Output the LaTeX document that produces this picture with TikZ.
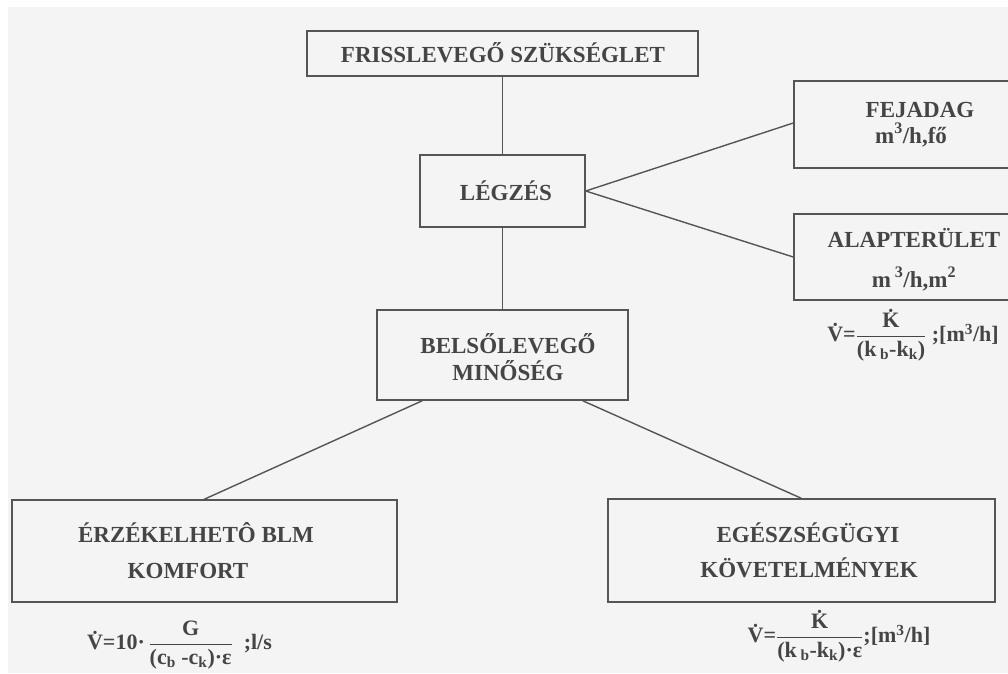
\documentclass[tikz,border=0pt]{standalone}
\usepackage{fontspec}
\usepackage{amsmath}
\setmainfont{Liberation Serif}
\definecolor{bg}{HTML}{F4F4F4}
\definecolor{ln}{HTML}{555555}
\definecolor{tx}{HTML}{454545}
\begin{document}
\begin{tikzpicture}[x=1pt,y=-1pt,
  box/.style={draw=ln,line width=1.5pt,inner sep=0pt,minimum width=#1},
  lbl/.style={text=tx,font=\fontsize{23}{27}\selectfont\bfseries,anchor=base,inner sep=0pt},
  frm/.style={text=tx,font=\fontsize{22}{26}\selectfont\bfseries,inner sep=0pt},
  conn/.style={draw=ln,line width=1.4pt}]
\useasboundingbox (0,0) rectangle (1008,673);
\fill[white] (0,0) rectangle (1008,673);
\fill[bg] (8,7) rectangle (1008,673);

% boxes
\node[box=391pt,minimum height=45pt] (top) at (502.5,53.5) {};
\node[box=165pt,minimum height=72pt] (legzes) at (502.5,191) {};
\node[box=252pt,minimum height=87pt] (fej) at (920,124.5) {};
\node[box=242pt,minimum height=86pt] (alap) at (915,257) {};
\node[box=251pt,minimum height=90pt] (belso) at (502.5,355) {};
\node[box=385pt,minimum height=102pt] (erz) at (204.5,551) {};
\node[box=387pt,minimum height=103pt] (egesz) at (801.5,550.5) {};

% texts
\node[lbl] (topt) at (503,62) {FRISSLEVEGŐ SZÜKSÉGLET};
\node[lbl] (legzest) at (506,200) {LÉGZÉS};
\node[lbl] (fej1) at (920,117) {FEJADAG};
\node[lbl] (fej2) at (911,143) {m\textsuperscript{3}/h,fő};
\node[lbl] (alap1) at (914,247) {ALAPTERÜLET};
\node[lbl] (alap2) at (914,287) {m\,\textsuperscript{3}/h,m\textsuperscript{2}};
\node[lbl] (belso1) at (508,353) {BELSŐLEVEGŐ};
\node[lbl] (belso2) at (508,380) {MINŐSÉG};
\node[lbl] (erz1) at (196,542) {ÉRZÉKELHETÔ BLM};
\node[lbl] (erz2) at (188,578) {KOMFORT};
\node[lbl] (egesz1) at (808,542) {EGÉSZSÉGÜGYI};
\node[lbl] (egesz2) at (809,577) {KÖVETELMÉNYEK};

% formulas
\node[frm] (f1) at (913,335) {$\text{\.{V}=}\dfrac{\text{\.{K}}}{\text{(k\,\textsubscript{b}-k\textsubscript{k})}}\text{ ;[m\textsuperscript{3}/h]}$};
\node[frm] (f2) at (179.5,645) {$\text{\.{V}=10·\,}\dfrac{\text{G}}{\text{(c\textsubscript{b} -c\textsubscript{k})·ε}}\text{ \ ;l/s}$};
\node[frm] (f3) at (839,636) {$\text{\.{V}=}\dfrac{\text{\.{K}}}{\text{(k\,\textsubscript{b}-k\textsubscript{k})·ε}}\text{;[m\textsuperscript{3}/h]}$};

% connectors
\draw[conn] (top.south) -- (legzes.north);
\draw[conn] (legzes.east) -- ([yshift=1.5pt]fej.west);
\draw[conn] (legzes.east) -- (alap.west);
\draw[conn] (legzes.south) -- (belso.north);
\draw[conn] ([xshift=46pt]belso.south west) -- ([xshift=193pt]erz.north west);
\draw[conn] ([xshift=-46pt]belso.south east) -- ([xshift=194pt]egesz.north west);
\end{tikzpicture}
\end{document}
